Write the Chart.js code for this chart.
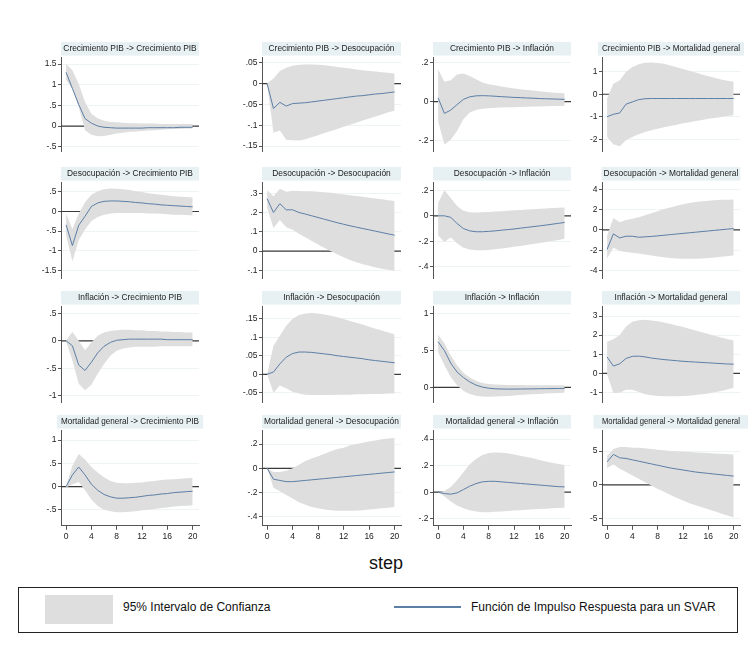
<!DOCTYPE html>
<html><head><meta charset="utf-8">
<script src="https://cdn.jsdelivr.net/npm/chart.js@4.4.1/dist/chart.umd.min.js"></script>
<style>
html,body{margin:0;padding:0;background:#fff;}
body{width:754px;height:648px;position:relative;overflow:hidden;font-family:"Liberation Sans",Arial,sans-serif;}
.wrap{position:absolute;}
.wrap canvas{display:block;}
#step{position:absolute;left:336px;top:553px;width:100px;text-align:center;font-size:18px;color:#111;}
#leg{position:absolute;left:18px;top:587px;width:720px;height:46px;border:1px solid #222;box-sizing:border-box;}
#sw1{position:absolute;left:26px;top:7px;width:68px;height:29px;background:#dedede;}
#t1{position:absolute;left:104px;top:11px;font-size:12px;line-height:16px;color:#111;white-space:nowrap;}
#sw2{position:absolute;left:375px;top:18px;width:67px;height:1.5px;background:#5c7fa6;}
#t2{position:absolute;left:452px;top:11px;font-size:12px;line-height:16px;color:#111;white-space:nowrap;}
</style></head><body>
<div id="step">step</div>
<div id="leg"><div id="sw1"></div><div id="t1">95% Intervalo de Confianza</div><div id="sw2"></div><div id="t2">Función de Impulso Respuesta para un SVAR</div></div>
<script>
// ---------- data ----------
const steps = [0,1,2,3,4,5,6,7,8,9,10,11,12,13,14,15,16,17,18,19,20];
const xTicks = [0,4,8,12,16,20];

const titles = [
 "Crecimiento PIB -> Crecimiento PIB","Crecimiento PIB -> Desocupación","Crecimiento PIB -> Inflación","Crecimiento PIB -> Mortalidad general",
 "Desocupación -> Crecimiento PIB","Desocupación -> Desocupación","Desocupación -> Inflación","Desocupación -> Mortalidad general",
 "Inflación -> Crecimiento PIB","Inflación -> Desocupación","Inflación -> Inflación","Inflación -> Mortalidad general",
 "Mortalidad general -> Crecimiento PIB","Mortalidad general -> Desocupación","Mortalidad general -> Inflación","Mortalidad general -> Mortalidad general"
];

const yTicks = [
 [1.5,1,0.5,0,-0.5],[0.05,0,-0.05,-0.1,-0.15],[0.2,0,-0.2],[1,0,-1,-2],
 [0.5,0,-0.5,-1,-1.5],[0.3,0.2,0.1,0,-0.1],[0.2,0,-0.2,-0.4],[4,2,0,-2,-4],
 [0.5,0,-0.5,-1],[0.15,0.1,0.05,0,-0.05],[1,0.5,0],[3,2,1,0,-1],
 [1,0.5,0,-0.5],[0.2,0,-0.2,-0.4],[0.4,0.2,0,-0.2],[5,0,-5]
];

// Crecimiento PIB impulse
const cpib_cpib_irf = [1.30,0.91,0.52,0.18,0.07,0.00,-0.03,-0.04,-0.05,-0.05,-0.05,-0.05,-0.05,-0.04,-0.04,-0.04,-0.04,-0.04,-0.03,-0.03,-0.03];
const cpib_cpib_hi  = [1.50,1.35,1.02,0.58,0.30,0.19,0.13,0.10,0.09,0.08,0.07,0.07,0.06,0.06,0.06,0.05,0.05,0.05,0.05,0.05,0.05];
const cpib_cpib_lo  = [1.12,0.89,0.46,-0.10,-0.21,-0.25,-0.24,-0.21,-0.18,-0.16,-0.14,-0.13,-0.12,-0.11,-0.10,-0.09,-0.08,-0.07,-0.07,-0.06,-0.06];

const cpib_des_irf = [0,-0.060,-0.045,-0.054,-0.048,-0.047,-0.046,-0.044,-0.042,-0.040,-0.038,-0.036,-0.034,-0.032,-0.030,-0.029,-0.027,-0.025,-0.024,-0.022,-0.020];
const cpib_des_hi  = [0,0.012,0.030,0.038,0.043,0.045,0.046,0.046,0.045,0.044,0.042,0.040,0.038,0.036,0.034,0.032,0.030,0.029,0.027,0.026,0.024];
const cpib_des_lo  = [0,-0.118,-0.113,-0.135,-0.136,-0.137,-0.134,-0.129,-0.124,-0.119,-0.114,-0.109,-0.104,-0.099,-0.094,-0.089,-0.084,-0.079,-0.074,-0.069,-0.065];

const cpib_inf_irf = [0.020,-0.060,-0.043,-0.015,0.012,0.025,0.030,0.031,0.030,0.028,0.026,0.024,0.022,0.021,0.019,0.018,0.016,0.015,0.014,0.013,0.012];
const cpib_inf_hi  = [0.166,0.103,0.110,0.140,0.145,0.132,0.115,0.098,0.090,0.084,0.078,0.073,0.068,0.064,0.060,0.057,0.053,0.050,0.047,0.045,0.043];
const cpib_inf_lo  = [-0.100,-0.220,-0.195,-0.150,-0.090,-0.055,-0.042,-0.036,-0.033,-0.031,-0.030,-0.029,-0.028,-0.027,-0.026,-0.025,-0.024,-0.023,-0.022,-0.022,-0.021];

const cpib_mort_irf = [-1.00,-0.89,-0.83,-0.44,-0.34,-0.24,-0.20,-0.19,-0.19,-0.19,-0.19,-0.19,-0.19,-0.19,-0.19,-0.19,-0.19,-0.19,-0.19,-0.19,-0.19];
const cpib_mort_hi  = [-0.20,0.47,0.62,1.00,1.21,1.33,1.40,1.41,1.39,1.35,1.28,1.20,1.12,1.04,0.96,0.88,0.80,0.73,0.66,0.60,0.55];
const cpib_mort_lo  = [-1.90,-2.22,-2.31,-2.04,-1.90,-1.78,-1.68,-1.60,-1.53,-1.47,-1.41,-1.35,-1.29,-1.24,-1.19,-1.14,-1.09,-1.05,-1.01,-0.97,-0.93];

// Desocupación impulse
const des_cpib_irf = [-0.34,-0.87,-0.35,-0.12,0.13,0.22,0.26,0.27,0.27,0.26,0.25,0.23,0.22,0.20,0.19,0.17,0.16,0.15,0.14,0.13,0.12];
const des_cpib_hi  = [-0.06,-0.45,-0.06,0.24,0.43,0.52,0.57,0.59,0.58,0.57,0.55,0.52,0.50,0.47,0.45,0.43,0.41,0.39,0.38,0.37,0.36];
const des_cpib_lo  = [-0.60,-1.28,-0.73,-0.46,-0.24,-0.14,-0.08,-0.05,-0.04,-0.04,-0.04,-0.04,-0.04,-0.05,-0.05,-0.06,-0.07,-0.08,-0.08,-0.09,-0.10];

const des_des_irf = [0.272,0.200,0.246,0.214,0.214,0.200,0.192,0.183,0.174,0.165,0.156,0.147,0.139,0.131,0.124,0.117,0.110,0.103,0.096,0.089,0.082];
const des_des_hi  = [0.315,0.285,0.323,0.308,0.313,0.312,0.311,0.310,0.308,0.305,0.302,0.298,0.294,0.290,0.286,0.282,0.277,0.273,0.269,0.264,0.260];
const des_des_lo  = [0.226,0.118,0.161,0.123,0.110,0.090,0.071,0.052,0.034,0.016,-0.001,-0.017,-0.032,-0.046,-0.058,-0.068,-0.077,-0.085,-0.092,-0.097,-0.102];

const des_inf_irf = [0.000,0.000,-0.012,-0.060,-0.100,-0.118,-0.125,-0.125,-0.122,-0.118,-0.113,-0.108,-0.103,-0.097,-0.091,-0.085,-0.079,-0.073,-0.066,-0.059,-0.052];
const des_inf_hi  = [0.100,0.200,0.140,0.077,0.040,0.027,0.025,0.027,0.030,0.033,0.036,0.040,0.043,0.046,0.049,0.052,0.055,0.058,0.061,0.063,0.065];
const des_inf_lo  = [-0.155,-0.206,-0.168,-0.214,-0.250,-0.264,-0.270,-0.270,-0.267,-0.262,-0.256,-0.250,-0.243,-0.236,-0.229,-0.221,-0.213,-0.205,-0.197,-0.189,-0.180];

const des_mort_irf = [-1.92,-0.39,-0.78,-0.62,-0.62,-0.72,-0.68,-0.64,-0.58,-0.52,-0.46,-0.40,-0.34,-0.28,-0.22,-0.16,-0.10,-0.04,0.02,0.08,0.14];
const des_mort_hi  = [-0.55,1.17,0.75,0.98,1.10,1.25,1.45,1.65,1.85,2.05,2.22,2.38,2.52,2.64,2.74,2.82,2.88,2.93,2.96,2.98,3.00];
const des_mort_lo  = [-2.80,-1.75,-2.08,-2.18,-2.25,-2.32,-2.42,-2.52,-2.62,-2.70,-2.76,-2.80,-2.83,-2.84,-2.83,-2.80,-2.76,-2.71,-2.65,-2.58,-2.50];

// Inflación impulse
const inf_cpib_irf = [0.00,-0.09,-0.44,-0.54,-0.39,-0.22,-0.10,-0.03,0.01,0.02,0.03,0.03,0.03,0.03,0.03,0.03,0.02,0.02,0.02,0.02,0.02];
const inf_cpib_hi  = [0.01,0.16,0.00,-0.17,-0.03,0.09,0.15,0.18,0.19,0.20,0.20,0.19,0.19,0.18,0.18,0.17,0.17,0.16,0.16,0.15,0.15];
const inf_cpib_lo  = [-0.01,-0.36,-0.78,-0.90,-0.80,-0.60,-0.42,-0.27,-0.18,-0.14,-0.12,-0.11,-0.11,-0.11,-0.11,-0.10,-0.10,-0.10,-0.10,-0.10,-0.10];

const inf_des_irf = [0.000,0.006,0.028,0.046,0.056,0.060,0.060,0.059,0.057,0.055,0.053,0.050,0.048,0.046,0.044,0.042,0.039,0.037,0.035,0.033,0.031];
const inf_des_hi  = [0.000,0.077,0.104,0.131,0.150,0.160,0.164,0.165,0.164,0.161,0.158,0.154,0.149,0.144,0.139,0.134,0.128,0.123,0.118,0.113,0.108];
const inf_des_lo  = [0.000,-0.050,-0.030,-0.038,-0.047,-0.052,-0.055,-0.056,-0.056,-0.056,-0.056,-0.055,-0.055,-0.055,-0.054,-0.054,-0.053,-0.053,-0.053,-0.052,-0.052];

const inf_inf_irf = [0.62,0.50,0.33,0.21,0.135,0.076,0.032,0.005,-0.010,-0.018,-0.021,-0.022,-0.022,-0.021,-0.020,-0.019,-0.017,-0.016,-0.015,-0.014,-0.013];
const inf_inf_hi  = [0.714,0.600,0.433,0.300,0.200,0.134,0.090,0.062,0.048,0.040,0.036,0.034,0.033,0.032,0.031,0.031,0.030,0.030,0.030,0.030,0.030];
const inf_inf_lo  = [0.48,0.30,0.143,0.030,-0.045,-0.090,-0.112,-0.122,-0.125,-0.123,-0.119,-0.114,-0.109,-0.103,-0.097,-0.092,-0.087,-0.082,-0.078,-0.074,-0.070];

const inf_mort_irf = [0.86,0.38,0.50,0.78,0.89,0.90,0.86,0.80,0.76,0.72,0.69,0.66,0.63,0.61,0.59,0.57,0.55,0.53,0.51,0.49,0.48];
const inf_mort_hi  = [1.65,1.78,2.00,2.45,2.70,2.78,2.80,2.77,2.72,2.66,2.58,2.50,2.42,2.33,2.24,2.15,2.06,1.97,1.88,1.80,1.72];
const inf_mort_lo  = [-0.05,-1.03,-1.02,-0.86,-0.86,-0.98,-1.09,-1.15,-1.19,-1.20,-1.20,-1.20,-1.19,-1.17,-1.14,-1.10,-1.05,-0.99,-0.92,-0.84,-0.76];

// Mortalidad general impulse
const mort_cpib_irf = [0.00,0.25,0.42,0.25,0.05,-0.08,-0.17,-0.22,-0.25,-0.25,-0.24,-0.23,-0.21,-0.19,-0.18,-0.16,-0.15,-0.13,-0.12,-0.11,-0.10];
const mort_cpib_hi  = [0.02,0.45,0.70,0.58,0.42,0.30,0.20,0.12,0.08,0.07,0.07,0.08,0.09,0.11,0.12,0.14,0.15,0.16,0.17,0.18,0.19];
const mort_cpib_lo  = [-0.02,0.05,0.10,-0.08,-0.28,-0.42,-0.50,-0.53,-0.55,-0.55,-0.54,-0.53,-0.51,-0.50,-0.48,-0.46,-0.45,-0.43,-0.42,-0.41,-0.40];

const mort_des_irf = [0.00,-0.09,-0.10,-0.11,-0.11,-0.105,-0.10,-0.095,-0.09,-0.085,-0.08,-0.075,-0.07,-0.065,-0.06,-0.055,-0.05,-0.045,-0.04,-0.035,-0.03];
const mort_des_hi  = [0.00,-0.03,-0.03,-0.02,0.00,0.03,0.06,0.08,0.10,0.12,0.14,0.16,0.17,0.19,0.20,0.21,0.22,0.23,0.24,0.245,0.25];
const mort_des_lo  = [0.00,-0.16,-0.19,-0.22,-0.25,-0.28,-0.30,-0.32,-0.33,-0.34,-0.345,-0.35,-0.35,-0.35,-0.35,-0.345,-0.34,-0.335,-0.33,-0.325,-0.32];

const mort_inf_irf = [0.000,-0.010,-0.015,-0.005,0.020,0.045,0.065,0.078,0.082,0.082,0.078,0.074,0.070,0.066,0.062,0.058,0.054,0.050,0.046,0.042,0.040];
const mort_inf_hi  = [0.000,0.010,0.040,0.090,0.150,0.210,0.250,0.280,0.295,0.300,0.298,0.293,0.285,0.275,0.265,0.255,0.243,0.232,0.222,0.212,0.205];
const mort_inf_lo  = [0.000,-0.030,-0.070,-0.100,-0.120,-0.135,-0.145,-0.150,-0.150,-0.148,-0.145,-0.142,-0.138,-0.135,-0.132,-0.129,-0.126,-0.124,-0.121,-0.119,-0.117];

const mort_mort_irf = [3.4,4.5,4.0,3.9,3.7,3.5,3.3,3.1,2.9,2.7,2.5,2.35,2.2,2.05,1.9,1.8,1.7,1.6,1.5,1.4,1.3];
const mort_mort_hi  = [4.3,5.3,5.6,5.6,5.5,5.5,5.4,5.3,5.2,5.1,5.0,4.95,4.9,4.85,4.8,4.75,4.7,4.65,4.6,4.55,4.5];
const mort_mort_lo  = [2.5,3.0,2.4,1.9,1.4,0.9,0.4,-0.1,-0.6,-1.0,-1.5,-1.9,-2.3,-2.7,-3.0,-3.3,-3.6,-3.9,-4.2,-4.5,-4.8];

const irfs = [cpib_cpib_irf,cpib_des_irf,cpib_inf_irf,cpib_mort_irf, des_cpib_irf,des_des_irf,des_inf_irf,des_mort_irf,
              inf_cpib_irf,inf_des_irf,inf_inf_irf,inf_mort_irf, mort_cpib_irf,mort_des_irf,mort_inf_irf,mort_mort_irf];
const his  = [cpib_cpib_hi,cpib_des_hi,cpib_inf_hi,cpib_mort_hi, des_cpib_hi,des_des_hi,des_inf_hi,des_mort_hi,
              inf_cpib_hi,inf_des_hi,inf_inf_hi,inf_mort_hi, mort_cpib_hi,mort_des_hi,mort_inf_hi,mort_mort_hi];
const los  = [cpib_cpib_lo,cpib_des_lo,cpib_inf_lo,cpib_mort_lo, des_cpib_lo,des_des_lo,des_inf_lo,des_mort_lo,
              inf_cpib_lo,inf_des_lo,inf_inf_lo,inf_mort_lo, mort_cpib_lo,mort_des_lo,mort_inf_lo,mort_mort_lo];

// ---------- layout / style ----------
const yRange = [
 [-0.604,1.669],[-0.162,0.0637],[-0.253,0.229],[-2.52,1.65],
 [-1.70,0.753],[-0.140,0.358],[-0.487,0.264],[-4.73,4.71],
 [-1.113,0.631],[-0.0748,0.184],[-0.197,1.103],[-1.50,3.52],
 [-0.843,1.214],[-0.474,0.315],[-0.253,0.468],[-6.03,8.09]
];
const colX0  = [65.7, 266.7, 438.3, 607.3];
const colX20 = [192.3, 394.0, 565.0, 734.0];
const rowTop = [57, 182, 306, 430];
const rowBot = [151, 278, 402, 526];
const X_MIN = -0.8, X_MAX = 21;
const BAND = '#dedede', LINE = '#5c7fa6', AX = '#555', GRID = '#eef3f5', BAR = '#e7f0f3', TXT = '#222';
const FAM = '"Liberation Sans", Arial, sans-serif';
const TITLE_SIZE = 8.4;
Chart.defaults.font.family = FAM;

function fmt(v){ const s = String(Math.round(v*1000)/1000); return s.replace(/^(-?)0\./,'$1.'); }
function pts(arr){ return steps.map((s,k)=>({x:s,y:arr[k]})); }

const deco = {
  id:'deco',
  beforeDraw(chart){
    const ca = chart.chartArea, tb = chart.titleBlock, ctx = chart.ctx;
    if(!tb) return;
    ctx.save();
    ctx.font = TITLE_SIZE + 'px ' + FAM;
    const tw = ctx.measureText(chart.options.plugins.title.text).width;
    const cx = (ca.left + ca.right)/2;
    const w = Math.max(ca.right - ca.left, tw + 4);
    ctx.fillStyle = BAR;
    ctx.fillRect(cx - w/2, tb.top, w, ca.top - 1.5 - tb.top);
    ctx.restore();
  },
  beforeDatasetsDraw(chart){
    const ca = chart.chartArea, ctx = chart.ctx;
    const y = chart.scales.y.getPixelForValue(0);
    ctx.save();
    ctx.strokeStyle = '#3a3a3a'; ctx.lineWidth = 1.2;
    ctx.beginPath(); ctx.moveTo(ca.left, y); ctx.lineTo(ca.right, y); ctx.stroke();
    ctx.restore();
  }
};

titles.forEach((title, i) => {
  const r = Math.floor(i/4), c = i % 4;
  const st = (colX20[c] - colX0[c]) / 20;
  const L = colX0[c] + X_MIN*st, R = colX0[c] + X_MAX*st;
  const T = rowTop[r], B = rowBot[r];
  const bottom = (r === 3);
  const wrap = document.createElement('div');
  wrap.className = 'wrap';
  wrap.style.left = '0px'; wrap.style.top = '0px';
  wrap.style.width = Math.round(R - L + 48) + 'px';
  wrap.style.height = Math.round(B - T + (bottom ? 40 : 28)) + 'px';
  const cv = document.createElement('canvas');
  wrap.appendChild(cv);
  document.body.appendChild(wrap);
  const chart = new Chart(cv, {
    type:'line',
    data:{ datasets:[
      { label:'Función de Impulso Respuesta para un SVAR', data:pts(irfs[i]), fill:false, borderColor:LINE, borderWidth:1, pointRadius:0, tension:0, order:0 },
      { label:'95% Intervalo de Confianza', data:pts(his[i]), fill:'+1', backgroundColor:BAND, borderColor:'rgba(0,0,0,0)', borderWidth:0, pointRadius:0, tension:0, order:1 },
      { label:'lo', data:pts(los[i]), fill:false, borderColor:'rgba(0,0,0,0)', borderWidth:0, pointRadius:0, tension:0, order:2 }
    ]},
    options:{
      responsive:true, maintainAspectRatio:false, animation:false, devicePixelRatio:1, events:[],
      layout:{ padding:{ left:0, right:8, top:0, bottom: bottom ? 2 : 8 } },
      plugins:{
        legend:{display:false}, tooltip:{enabled:false},
        title:{ display:true, text:title, fullSize:false, color:TXT, font:{size:TITLE_SIZE, family:FAM, weight:'normal'}, padding:{top:1.5, bottom:3.5} }
      },
      scales:{
        x:{ type:'linear', min:X_MIN, max:X_MAX, display:bottom,
            afterBuildTicks:s=>{ s.ticks = xTicks.map(v=>({value:v})); },
            ticks:{ font:{size:8.5}, color:TXT, padding:2, maxRotation:0, autoSkip:false },
            grid:{ drawOnChartArea:false, drawTicks:true, tickLength:4, tickColor:AX },
            border:{ display:true, color:AX, width:1 } },
        y:{ type:'linear', min:yRange[i][0], max:yRange[i][1],
            afterBuildTicks:s=>{ s.ticks = yTicks[i].map(v=>({value:v})); },
            afterFit:s=>{ s.width = 36; },
            ticks:{ font:{size:8.5}, color:TXT, padding:1.5, autoSkip:false, callback:v=>fmt(v) },
            grid:{ color:GRID, lineWidth:1, drawTicks:true, tickLength:3, tickColor:AX },
            border:{ display:true, color:AX, width:1 } }
      }
    },
    plugins:[deco]
  });
  const ca = chart.chartArea;
  const W = cv.clientWidth || wrap.clientWidth, H = cv.clientHeight || wrap.clientHeight;
  const ml = ca.left, mt = ca.top, mr = W - ca.right, mb = H - ca.bottom;
  wrap.style.width = Math.round(R - L + ml + mr) + 'px';
  wrap.style.height = Math.round(B - T + mt + mb) + 'px';
  wrap.style.left = Math.round(L - ml) + 'px';
  wrap.style.top = Math.round(T - mt) + 'px';
  chart.resize();
});
</script>
</body></html>
